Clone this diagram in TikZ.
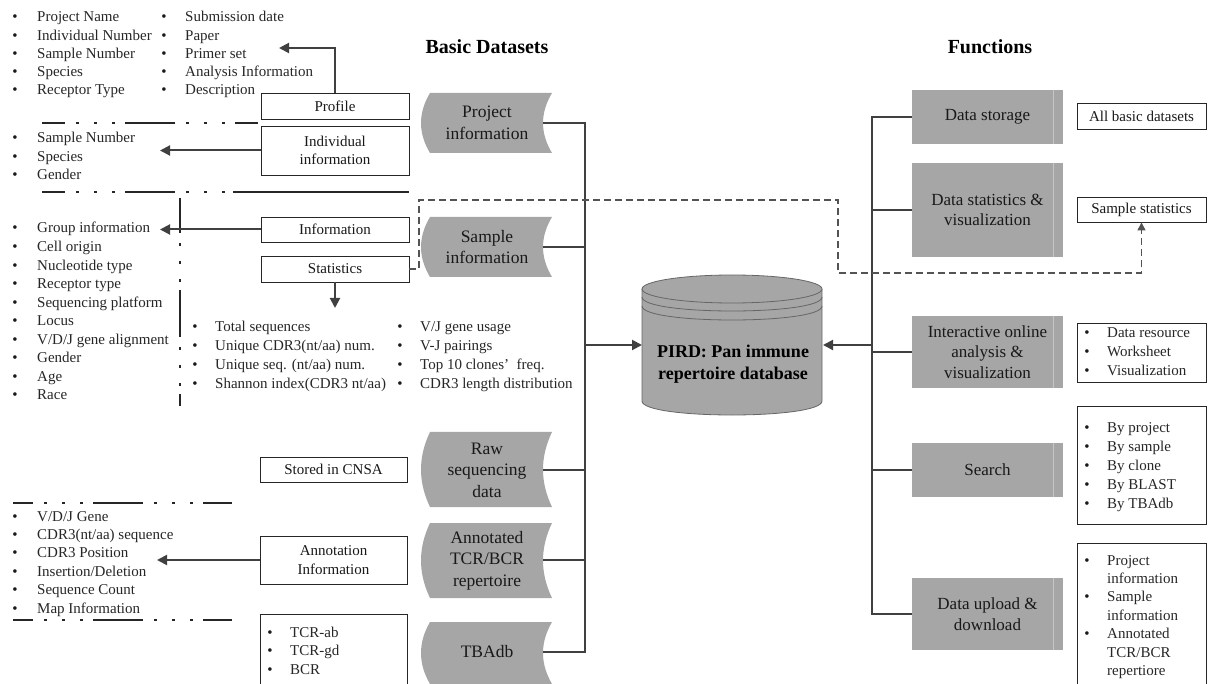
\documentclass[tikz,border=0pt]{standalone}
\usepackage{fontspec}
\setmainfont{Liberation Serif}
\usetikzlibrary{arrows.meta}
\definecolor{boxgray}{RGB}{166,166,166}
\definecolor{lnc}{RGB}{64,64,64}
\newcommand\blist[6]{%
  \foreach \lbl [count=\i] in {#6} {%
    \node[bul] (#1b\i) at (#2,{#4+(\i-1)*#5+5}) {\textbullet};
    \node[itm] (#1t\i) at (#3,{#4+(\i-1)*#5+5}) {\lbl};
  }}
\newcommand\dshape[2]{%
  \fill[boxgray] (430,#1) -- (552,#1) .. controls (540,{#1+(#2-#1)/3}) and (540,{#2-(#2-#1)/3}) .. (552,#2)
     -- (430,#2) .. controls (418,{#2-(#2-#1)/3}) and (418,{#1+(#2-#1)/3}) .. (430,#1) -- cycle;}
\begin{document}
\begin{tikzpicture}[x=1pt,y=-1pt,
  conn/.style={draw=lnc,line width=2pt},
  arr/.style={conn,-{Triangle[length=10pt,width=10pt]}},
  dsh/.style={draw=lnc!90,line width=1.4pt,dash pattern=on 7pt off 4pt},
  wbox/.style={draw=black!85,line width=0.9pt,fill=white,inner sep=0pt,align=center,text=black!90,font=\fontsize{15}{18.3}\selectfont},
  fbox/.style={fill=boxgray,draw=none,inner sep=0pt,align=center,text=black!90,font=\fontsize{17}{20.5}\selectfont,minimum width=151pt},
  dtext/.style={inner sep=0pt,align=center,text=black!90,font=\fontsize{17.5}{21.5}\selectfont},
  itm/.style={inner sep=0pt,anchor=base west,text=black!85,font=\fontsize{15}{18}\selectfont},
  bul/.style={inner sep=0pt,anchor=base,text=black!90,font=\fontsize{15}{18}\selectfont},
  ddl/.style={draw=black!85,line width=1.1pt,dash pattern=on 50pt off 11pt on 3pt off 15pt on 3pt off 15pt on 3pt off 10pt},
  title/.style={inner sep=0pt,font=\fontsize{20}{24}\bfseries\selectfont},
  dbline/.style={draw=black!60,line width=0.8pt}
]
\useasboundingbox (0,0) rectangle (1208,684);

% titles
\node[title] (tbd) at (487,47) {Basic Datasets};
\node[title] (tfn) at (990,47) {Functions};

% dash-dot separators
\draw[ddl,dash phase=27pt] (42,123) -- (258,123);
\draw[ddl,dash phase=27pt] (42,192) -- (233,192);
\draw[draw=black!85,line width=1.1pt] (233,192) -- (409,192);
\draw[ddl,dash pattern=on 47pt off 10pt on 3pt off 15pt on 3pt off 15pt on 3pt off 8pt,dash phase=12pt] (180,198) -- (180,406);
\draw[ddl,dash phase=30pt] (13,503) -- (232,503);
\draw[ddl,dash phase=30pt] (13,620) -- (232,620);

% left lists
\blist{pa}{15}{37}{17}{18.25}{Project Name, Individual Number, Sample Number, Species, Receptor Type}
\blist{pb}{164}{185}{17}{18.25}{Submission date, Paper, Primer set, Analysis Information, Description}
\blist{ia}{15}{37}{138}{18.5}{Sample Number, Species, Gender}
\blist{sa}{15}{37}{228}{18.55}{Group information, Cell origin, Nucleotide type, Receptor type, Sequencing platform, Locus, V/D/J gene alignment, Gender, Age, Race}
\blist{st}{195}{215}{327}{18.7}{Total sequences, Unique CDR3(nt/aa) num., Unique seq. (nt/aa) num., Shannon index(CDR3 nt/aa)}
\blist{su}{400}{420}{327}{18.7}{V/J gene usage, V-J pairings, Top 10 clones’\enspace freq., CDR3 length distribution}
\blist{an}{15}{37}{516}{18.4}{V/D/J Gene, CDR3(nt/aa) sequence, CDR3 Position, Insertion/Deletion, Sequence Count, Map Information}

% left white boxes
\node[wbox,minimum width=148pt,minimum height=26pt] (prof) at (335,106) {Profile};
\node[wbox,minimum width=148pt,minimum height=49pt] (ind) at (335,150.5) {Individual\\information};
\node[wbox,minimum width=148pt,minimum height=25pt] (info) at (335,229.5) {Information};
\node[wbox,minimum width=148pt,minimum height=26pt] (stat) at (335,269) {Statistics};
\node[wbox,minimum width=147pt,minimum height=25pt] (cnsa) at (333.5,469.5) {Stored in CNSA};
\node[wbox,minimum width=147pt,minimum height=48pt] (anni) at (333.5,560) {Annotation\\Information};
\draw[draw=black!85,line width=0.9pt] (260,692) -- (260,614) -- (407,614) -- (407,692);
\blist{tb}{270}{290}{632}{18.5}{TCR-ab, TCR-gd, BCR}

% left arrows
\coordinate (profTip) at (279,48);
\draw[arr] (prof.north) |- (profTip);
\coordinate (indTip) at (160,150.5);
\draw[arr] (ind.west) -- (indTip);
\coordinate (infoTip) at (160,229.5);
\draw[arr] (info.west) -- (infoTip);
\coordinate (statTip) at (335,308);
\draw[arr] (stat.south) -- (statTip);
\coordinate (annTip) at (157,560);
\draw[arr] (anni.west) -- (annTip);

% dataset shapes
\dshape{93}{153}
\dshape{217}{277}
\dshape{432}{507}
\dshape{523}{598}
\dshape{622}{684}
\node[dtext] (proj) at (487,123) {Project\\information};
\node[dtext] (samp) at (487,247) {Sample\\information};
\node[dtext] (raw) at (487,470) {Raw\\sequencing\\data};
\node[dtext] (ann) at (487,560.5) {Annotated\\TCR/BCR\\repertoire};
\node[dtext] (tba) at (487,652) {TBAdb};
\coordinate (projR) at (543,123);
\coordinate (sampR) at (543,247);
\coordinate (rawR) at (543,470);
\coordinate (annR) at (543,560);
\coordinate (tbR) at (543,652);
\coordinate (busLt) at (585,123);
\coordinate (busLb) at (585,652);
\coordinate (busLm) at (585,345);

% dashed statistics link
\coordinate (dA) at (419,200);
\coordinate (dB) at (838,273);

% database
\fill[boxgray] (642,289) -- (642,401) .. controls (642,419.67) and (822,419.67) .. (822,401) -- (822,289) -- cycle;
\draw[dbline] (642,289) -- (642,401) .. controls (642,419.67) and (822,419.67) .. (822,401) -- (822,289);
\filldraw[fill=boxgray,dbline] (732,289) ellipse [x radius=90pt, y radius=14pt];
\draw[dbline] (642,297) .. controls (642,315.67) and (822,315.67) .. (822,297);
\draw[dbline] (642,306) .. controls (642,324.67) and (822,324.67) .. (822,306);
\node[inner sep=0pt,align=center,font=\fontsize{18}{21.5}\bfseries\selectfont] (db) at (733,364) {PIRD: Pan immune\\repertoire database};
\coordinate (dbL) at (642,345);
\coordinate (dbR) at (823,345);

% left bus
\draw[conn] (projR) -- (busLt) -- (busLb) -- (tbR);
\draw[conn] (sampR) -- (sampR -| busLt);
\draw[conn] (rawR) -- (rawR -| busLt);
\draw[conn] (annR) -- (annR -| busLt);
\draw[arr] (busLm) -- (dbL);

% function boxes
\node[fbox,minimum height=54pt] (ds) at (987.5,117) {Data storage};
\node[fbox,minimum height=94pt] (dsv) at (987.5,210) {Data statistics \&\\visualization};
\node[fbox,minimum height=72pt] (iov) at (987.5,352) {Interactive online\\analysis \&\\visualization};
\node[fbox,minimum height=54pt] (sr) at (987.5,470) {Search};
\node[fbox,minimum height=72pt] (ud) at (987.5,614) {Data upload \&\\download};
\foreach \a/\b in {90/144,163/257,316/388,443/497,578/650}
  \draw[draw=gray!45,line width=0.6pt] (1053,\a) -- (1053,\b);

% right bus
\coordinate (busRt) at (872,117);
\coordinate (busRb) at (872,614);
\coordinate (busRm) at (872,345);
\draw[conn] (ds.west) -- (busRt) -- (busRb) -- (ud.west);
\draw[conn] (dsv.west) -- (dsv.west -| busRt);
\draw[conn] (iov.west) -- (iov.west -| busRt);
\draw[conn] (sr.west) -- (sr.west -| busRt);
\draw[arr] (busRm) -- (dbR);

% right white boxes
\node[wbox,minimum width=129pt,minimum height=26pt] (abd) at (1141.5,116) {All basic datasets};
\node[wbox,minimum width=129pt,minimum height=25pt] (sstat) at (1141.5,209.5) {Sample statistics};
\node[wbox,minimum width=129pt,minimum height=59pt] (drbox) at (1141.5,352.5) {};
\node[wbox,minimum width=129pt,minimum height=118pt] (sebox) at (1141.5,465) {};
\draw[draw=black!85,line width=0.9pt] (1077,692) -- (1077,543) -- (1206,543) -- (1206,692);
\blist{dr}{1087}{1107}{333}{19}{Data resource, Worksheet, Visualization}
\blist{se}{1087}{1107}{428}{18.75}{By project, By sample, By clone, By BLAST, By TBAdb}
\blist{dua}{1087}{1107}{560}{36.5}{Project, Sample, Annotated}
\node[itm] (dut1) at (1107,583) {information};
\node[itm] (dut2) at (1107,620) {information};
\node[itm] (dut3) at (1107,657) {TCR/BCR};
\node[itm] (dut4) at (1107,675) {repertiore};

% dashed link drawn last
\draw[dsh,-{Triangle[length=8pt,width=8pt]}] (stat.east) -| (dA) -| (dB) -| (sstat.south);
\end{tikzpicture}
\end{document}
